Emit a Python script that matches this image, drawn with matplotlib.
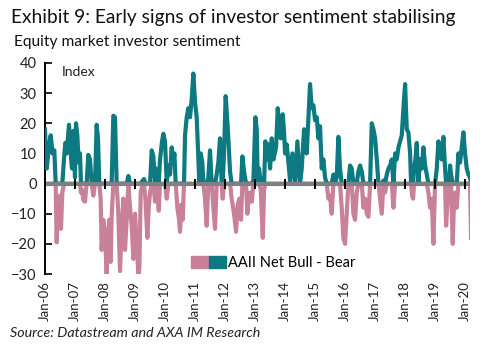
import datetime as dt
import numpy as np
import matplotlib
matplotlib.use('Agg')
import matplotlib.pyplot as plt
import matplotlib.dates as mdates
from matplotlib.patches import Patch
from matplotlib.legend_handler import HandlerTuple

plt.rcParams['font.family'] = ['Lato', 'DejaVu Sans']

# AAII net bull - bear (decimal year, index)
years_06_09 = [2006.0, 2006.056, 2006.144, 2006.189, 2006.256, 2006.311, 2006.356, 2006.389,
               2006.444, 2006.5, 2006.533, 2006.578, 2006.633, 2006.678, 2006.722, 2006.8,
               2006.856, 2006.9, 2006.944, 2007.0, 2007.033, 2007.078, 2007.122, 2007.167,
               2007.2, 2007.233, 2007.278, 2007.333, 2007.389, 2007.444, 2007.5, 2007.556,
               2007.611, 2007.667, 2007.722, 2007.767, 2007.811, 2007.856, 2007.889, 2007.944,
               2008.0, 2008.056, 2008.1, 2008.144, 2008.189, 2008.222, 2008.278, 2008.333,
               2008.389, 2008.444, 2008.5, 2008.556, 2008.611, 2008.667, 2008.722, 2008.778,
               2008.833, 2008.889, 2008.944, 2009.0, 2009.056, 2009.111, 2009.144, 2009.189,
               2009.256, 2009.3, 2009.344, 2009.411, 2009.456, 2009.5, 2009.556, 2009.611,
               2009.667, 2009.7, 2009.744, 2009.789, 2009.833, 2009.9, 2009.944]
vals_06_09 = [18, 5, 13, 16, 10, 11, 0, -19.5,
              -5, -4, -15, -3, 8, 13.5, 10, 19.5,
              10, 5, 17.5, 2, 20, 16, 7, 10,
              -3, -2, -5.5, -6, 0, 9.5, 8, 0,
              -4, 0, 19.5, 15, 0, -5, -22, -12,
              -17, -30, -17, -12, -26, -11, 22.5, 22,
              0, -10, -29, -15, -5, -22, -12, 2.5,
              -8, -14, -25, -10, -20, -30, -28, -3,
              1, 1.5, -5, -18, -8, -3, 11, 9,
              -6, 5, 4, -9, 8, 14, 16.5]

years_10_14 = [2010.0, 2010.056, 2010.111, 2010.167, 2010.222, 2010.278, 2010.311, 2010.356,
               2010.411, 2010.467, 2010.5, 2010.544, 2010.589, 2010.633, 2010.667, 2010.722,
               2010.778, 2010.833, 2010.889, 2010.944, 2011.0, 2011.056, 2011.111, 2011.144,
               2011.189, 2011.244, 2011.278, 2011.333, 2011.389, 2011.444, 2011.5, 2011.556,
               2011.611, 2011.667, 2011.722, 2011.778, 2011.833, 2011.889, 2011.922, 2011.967,
               2012.022, 2012.056, 2012.111, 2012.167, 2012.222, 2012.3, 2012.367, 2012.422,
               2012.478, 2012.533, 2012.578, 2012.633, 2012.7, 2012.744, 2012.789, 2012.833,
               2012.889, 2012.944, 2013.011, 2013.056, 2013.089, 2013.133, 2013.189, 2013.256,
               2013.3, 2013.344, 2013.389, 2013.444, 2013.5, 2013.556, 2013.611, 2013.7,
               2013.756, 2013.8, 2013.856, 2013.922, 2013.967, 2014.0, 2014.056, 2014.167,
               2014.244, 2014.333, 2014.411, 2014.5, 2014.556, 2014.633, 2014.722, 2014.778,
               2014.833, 2014.889, 2014.944]
vals_10_14 = [14, -5, 6, 3, 12, 7, 10, 0,
              -8, -12, -16, -7, -12, 0, 16, 22,
              25, 22, 28, 36.5, 27, 22, 8, 0,
              10, 7, 0, -5, -14, 2, 11, 0,
              -8, -15, 3, 7, 15, 0, -5, 10,
              29, 24, 15, 4, -5, -10, -16, -7,
              -5, -12, 9, 4, 0, -10, -5, -3,
              -6, 1, 22, 18, 0, 5, -2, -18,
              -2, 14, 8, 13, 5, 15, 8, 12,
              25, 20, 15, 23, 17, 10, 13, 1,
              10, 0, 14, 0, 5, 18, 10, 22,
              33, 25, 26]

years_15_17 = [2015.0, 2015.056, 2015.111, 2015.167, 2015.222, 2015.278, 2015.333, 2015.389,
               2015.444, 2015.5, 2015.556, 2015.611, 2015.667, 2015.722, 2015.778, 2015.833,
               2015.889, 2015.944, 2016.0, 2016.056, 2016.111, 2016.167, 2016.222, 2016.278,
               2016.333, 2016.389, 2016.444, 2016.5, 2016.556, 2016.611, 2016.667, 2016.722,
               2016.778, 2016.833, 2016.889, 2016.944, 2017.0, 2017.056, 2017.111, 2017.167,
               2017.222, 2017.278, 2017.333, 2017.389, 2017.444, 2017.5, 2017.556, 2017.611,
               2017.667, 2017.722, 2017.778, 2017.833, 2017.889, 2017.944]
vals_15_17 = [21, 22, 15, 19, 5, 8, 2, 0,
              -5, -4, -10, 3, 0, 2, 15.5, 5,
              -8, -18, -20, -10, 0, 6, 5, -10,
              -12, -3, 4, 6, 4, -8, -5, -10,
              -11, 0, 20, 18, 15, 8, 0, -5,
              -10, 1, -3, 3, 5, 6, 8, -8,
              10, 8, 12, 14, 16, 25]

years_18_20 = [2018.0, 2018.056, 2018.111, 2018.167, 2018.2, 2018.233, 2018.267, 2018.3,
               2018.344, 2018.389, 2018.444, 2018.5, 2018.556, 2018.611, 2018.667, 2018.722,
               2018.778, 2018.833, 2018.889, 2018.944, 2019.0, 2019.056, 2019.111, 2019.167,
               2019.222, 2019.278, 2019.333, 2019.367, 2019.422, 2019.467, 2019.5, 2019.533,
               2019.589, 2019.633, 2019.667, 2019.722, 2019.778, 2019.833, 2019.889, 2019.944,
               2020.0, 2020.056, 2020.111, 2020.167, 2020.2]
vals_18_20 = [33, 18, 17, 10, 0, -4, -5, 5,
              8, 13.5, 0, 8, 5, 12, 6, 3,
              -3, -8, -5, -20, 0, 5, 14, 10,
              8, 15.5, 5, -14, -5, 0, 6, 3,
              -20, -5, -3, -8, 10, 7, 12, 17,
              10, 5, 3, 2, -18]

tick_years = list(range(2006, 2021))


def to_date(y):
    yr = int(y)
    start = dt.datetime(yr, 1, 1)
    return start + (dt.datetime(yr + 1, 1, 1) - start) * (y - yr)


years = years_06_09 + years_10_14 + years_15_17 + years_18_20
vals = np.array(vals_06_09 + vals_10_14 + vals_15_17 + vals_18_20, dtype=float)
dates = [to_date(y) for y in years]

teal = '#0c7a80'
pink = '#c9819a'

fig = plt.figure(figsize=(5.01, 3.53), dpi=100)
ax = fig.add_axes([45 / 501, 1 - 274 / 353, 425 / 501, (274 - 63) / 353])

ax.plot(dates, np.minimum(vals, 0), color=pink, lw=3.0, solid_joinstyle='round', zorder=2)
ax.plot(dates, np.maximum(vals, 0), color=teal, lw=3.0, solid_joinstyle='round', zorder=3)
ax.axhline(0, color='#808080', lw=3, zorder=4)

ax.set_ylim(-30, 40)
ax.set_yticks(range(-30, 41, 10))
ax.set_xlim(dt.datetime(2006, 1, 1), dt.datetime(2020, 3, 1))
ax.set_xticks([dt.datetime(y, 1, 1) for y in tick_years])
ax.xaxis.set_major_formatter(mdates.DateFormatter('%b-%y'))
ax.tick_params(axis='x', length=0, rotation=90, labelsize=9.5, pad=5, colors='#222222')
ax.tick_params(axis='y', direction='in', length=5, width=1.2, labelsize=10.5, pad=6,
               colors='black', labelcolor='#222222')
for s in ['top', 'right', 'bottom']:
    ax.spines[s].set_visible(False)
ax.spines['left'].set_linewidth(1.4)

# ticks across the zero line
zx = ax.secondary_xaxis(3 / 7)
zx.set_xticks([dt.datetime(y, 1, 1) for y in tick_years])
zx.tick_params(direction='inout', length=7, width=1.4, colors='black', labelbottom=False,
               labeltop=False)
zx.spines['bottom'].set_visible(False)
zx.set_zorder(6)

ax.text(0.04, 0.985, 'Index', transform=ax.transAxes, fontsize=10, va='top', color='#222222')

h = (Patch(color=pink), Patch(color=teal))
ax.legend([h], ['AAII Net Bull - Bear'], handler_map={tuple: HandlerTuple(ndivide=None, pad=0)},
          loc='lower left', bbox_to_anchor=(0.33, -0.01), frameon=False, fontsize=10.5,
          handlelength=2.4, handleheight=0.9, handletextpad=0.1, borderaxespad=0)

fig.text(11 / 501, 1 - 17 / 353, 'Exhibit 9: Early signs of investor sentiment stabilising',
         fontsize=13.8, va='center', color='#111111')
fig.text(14 / 501, 1 - 42 / 353, 'Equity market investor sentiment', fontsize=11.2,
         va='center', color='#111111')
fig.text(10 / 501, 1 - 333 / 353, 'Source: Datastream and AXA IM Research', fontsize=10.3,
         style='italic', va='center', color='#222222')

fig.savefig('out.png', dpi=100)
